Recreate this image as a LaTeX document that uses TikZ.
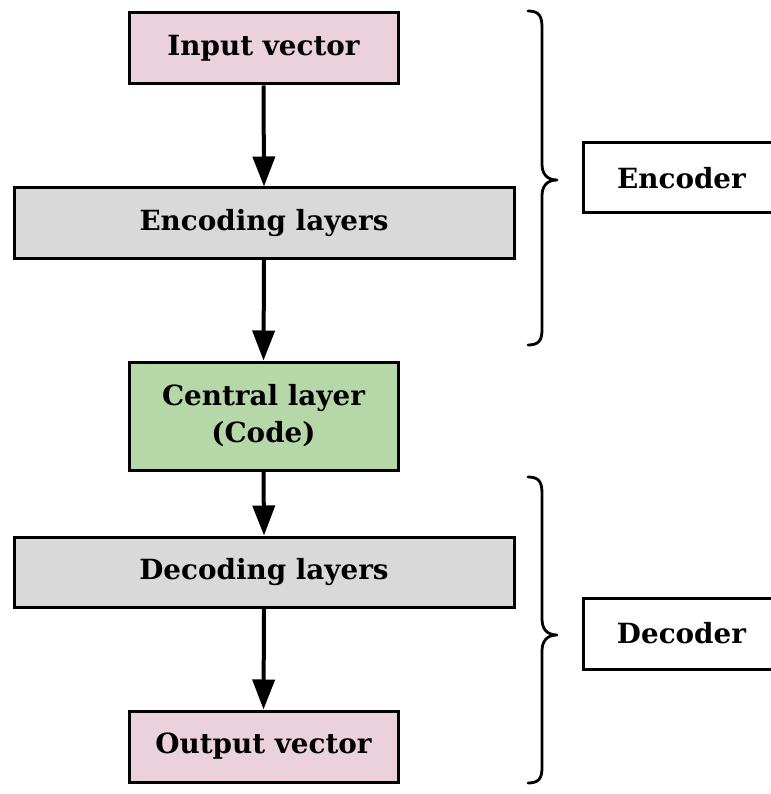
\documentclass[tikz,border=0pt]{standalone}
\usepackage{fontspec}
\setmainfont{DejaVu Serif}
\usetikzlibrary{arrows.meta}
\definecolor{pinkfill}{HTML}{EAD1DC}
\definecolor{grayfill}{HTML}{D9D9D9}
\definecolor{greenfill}{HTML}{B6D7A8}
\tikzset{
  blk/.style={draw=black, line width=3pt, inner sep=0pt, align=center,
    font=\fontsize{27.8}{37}\selectfont\bfseries},
  flow/.style={line width=4pt, -{Triangle[width=22pt,length=30pt]}},
  brc/.style={line width=2.8pt, line cap=round, line join=round}
}
\begin{document}
\begin{tikzpicture}[x=1pt,y=-1pt]
\useasboundingbox (0,0) rectangle (770,794);
\node[blk, fill=pinkfill, minimum width=269pt, minimum height=71pt] (inp) at (263.5,48.5) {Input vector};
\node[blk, fill=grayfill, minimum width=500pt, minimum height=70pt] (enc) at (264,223) {Encoding layers};
\node[blk, fill=greenfill, minimum width=269pt, minimum height=108pt] (cen) at (263.5,416) {Central layer\\(Code)};
\node[blk, fill=grayfill, minimum width=500pt, minimum height=70pt] (dec) at (264,572) {Decoding layers};
\node[blk, fill=pinkfill, minimum width=269pt, minimum height=71pt] (out) at (263.5,746.5) {Output vector};
\node[blk, fill=white, minimum width=197pt, minimum height=70pt] (encl) at (681.5,178) {Encoder};
\node[blk, fill=white, minimum width=197pt, minimum height=71pt] (decl) at (681.5,633.5) {Decoder};
\draw[flow] (inp.south) -- (enc.north);
\draw[flow] (enc.south) -- (cen.north);
\draw[flow] (cen.south) -- (dec.north);
\draw[flow] (dec.south) -- (out.north);
% braces
\coordinate (b1t) at (528,11);
\coordinate (b1m) at (557,180);
\coordinate (b1b) at (528,345);
\draw[brc] (b1t) .. controls (538,11) and (542,15) .. (542,27)
  -- (542,164) .. controls (542,174) and (547,180) .. (b1m)
  .. controls (547,180) and (542,186) .. (542,196)
  -- (542,330) .. controls (542,341) and (538,345) .. (b1b);
\coordinate (b2t) at (528,477);
\coordinate (b2m) at (557,635);
\coordinate (b2b) at (528,783);
\draw[brc] (b2t) .. controls (538,477) and (542,481) .. (542,493)
  -- (542,619) .. controls (542,629) and (547,635) .. (b2m)
  .. controls (547,635) and (542,641) .. (542,651)
  -- (542,768) .. controls (542,779) and (538,783) .. (b2b);
\end{tikzpicture}
\end{document}
